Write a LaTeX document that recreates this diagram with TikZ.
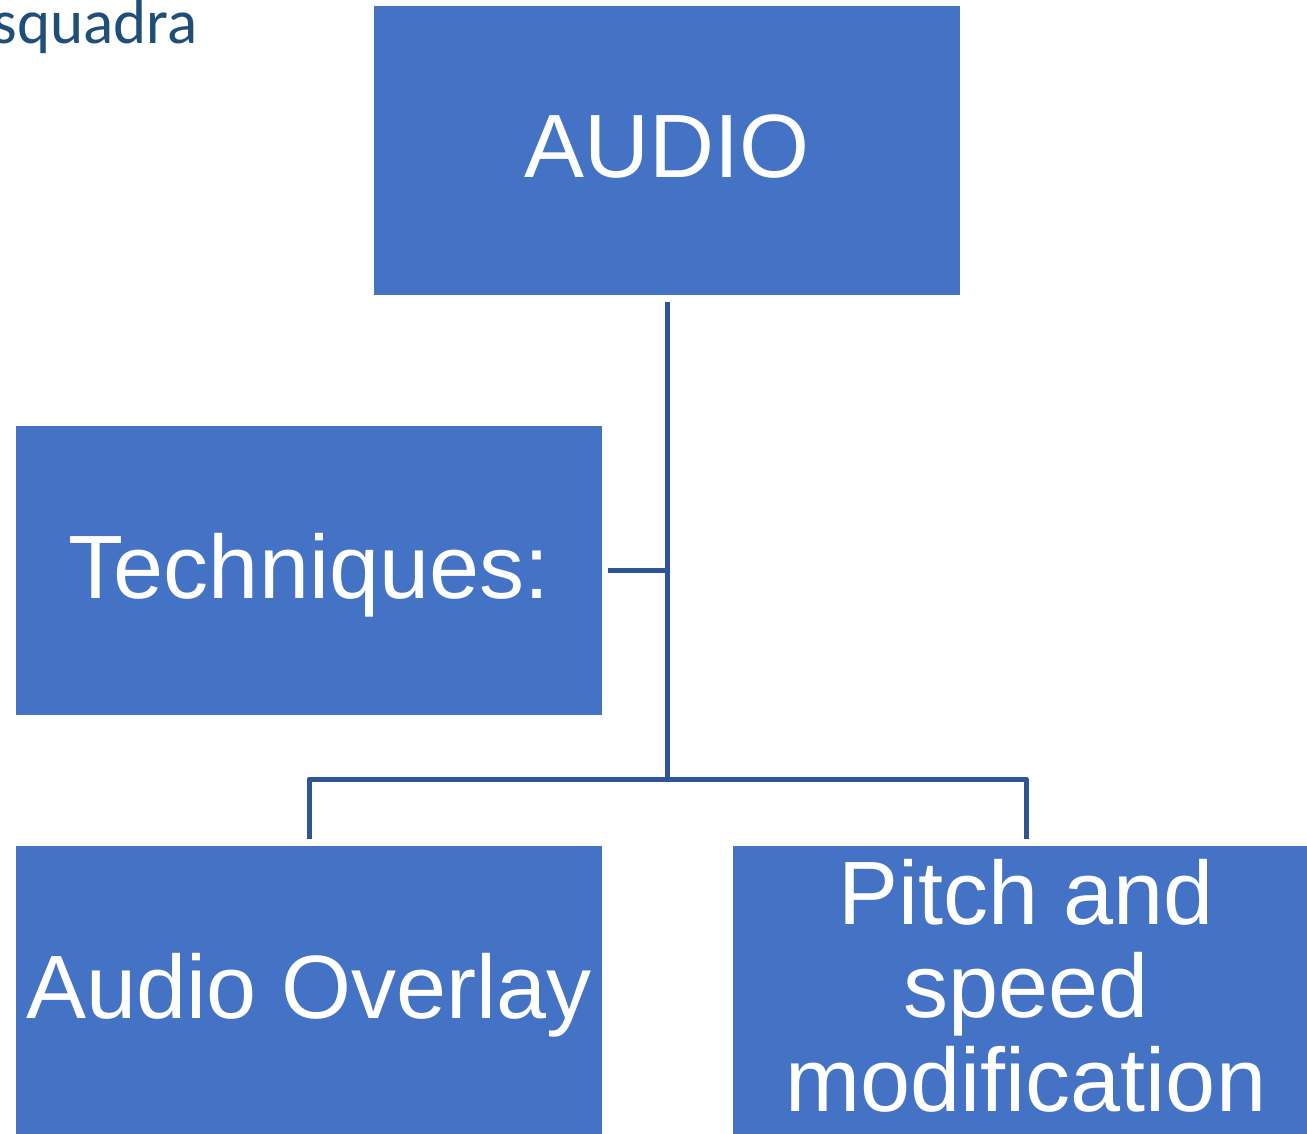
\documentclass[tikz,border=0pt]{standalone}
\usepackage{fontspec}
\setmainfont{Liberation Sans}
\newfontfamily\notefont{Carlito}
\definecolor{boxblue}{HTML}{4472C4}
\definecolor{linkblue}{HTML}{2F5597}
\definecolor{notecolor}{HTML}{1F4E79}
\begin{document}
\begin{tikzpicture}[x=1pt,y=-1pt,
  block/.style={fill=boxblue, draw=none, minimum width=586pt, minimum height=289pt,
    inner sep=0pt},
  label/.style={text=white, font=\fontsize{90}{93.5}\selectfont, inner sep=0pt},
  oneline/.style={label, text depth=0pt, yshift=4.5pt},
  link/.style={draw=linkblue, line width=5pt, line join=round}]
\useasboundingbox (0,0) rectangle (1307,1133);
\clip (0,0) rectangle (1307,1133);

% note text in the upper left corner
\node[anchor=base east, inner sep=0pt, text=notecolor,
  font=\notefont\fontsize{63}{63}\selectfont] (note) at (198,43.5) {squadra};

% boxes and their captions
\node[block] (audio) at (667,150.5) {};
\node[oneline] (audiot) at (audio.center) {AUDIO};
\node[block] (tech) at (309,570.5) {};
\node[oneline] (techt) at (tech.center) {Techniques:};
\node[block] (overlay) at (309,990.5) {};
\node[oneline] (overlayt) at (overlay.center) {Audio Overlay};
\node[block] (pitch) at (1026,990.5) {};
\node[label, align=center, yshift=5pt] (pitcht) at (pitch.center) {Pitch and\\speed\\modification};

% connectors
\coordinate (bar) at (667,779);
\draw[link] ([yshift=-7pt]audio.south) -- (bar);
\draw[link] ([xshift=6pt]tech.east) -- (tech.east -| bar);
\draw[link] ([yshift=7pt]overlay.north) |- (bar) -| ([yshift=7pt]pitch.north);
\end{tikzpicture}
\end{document}
